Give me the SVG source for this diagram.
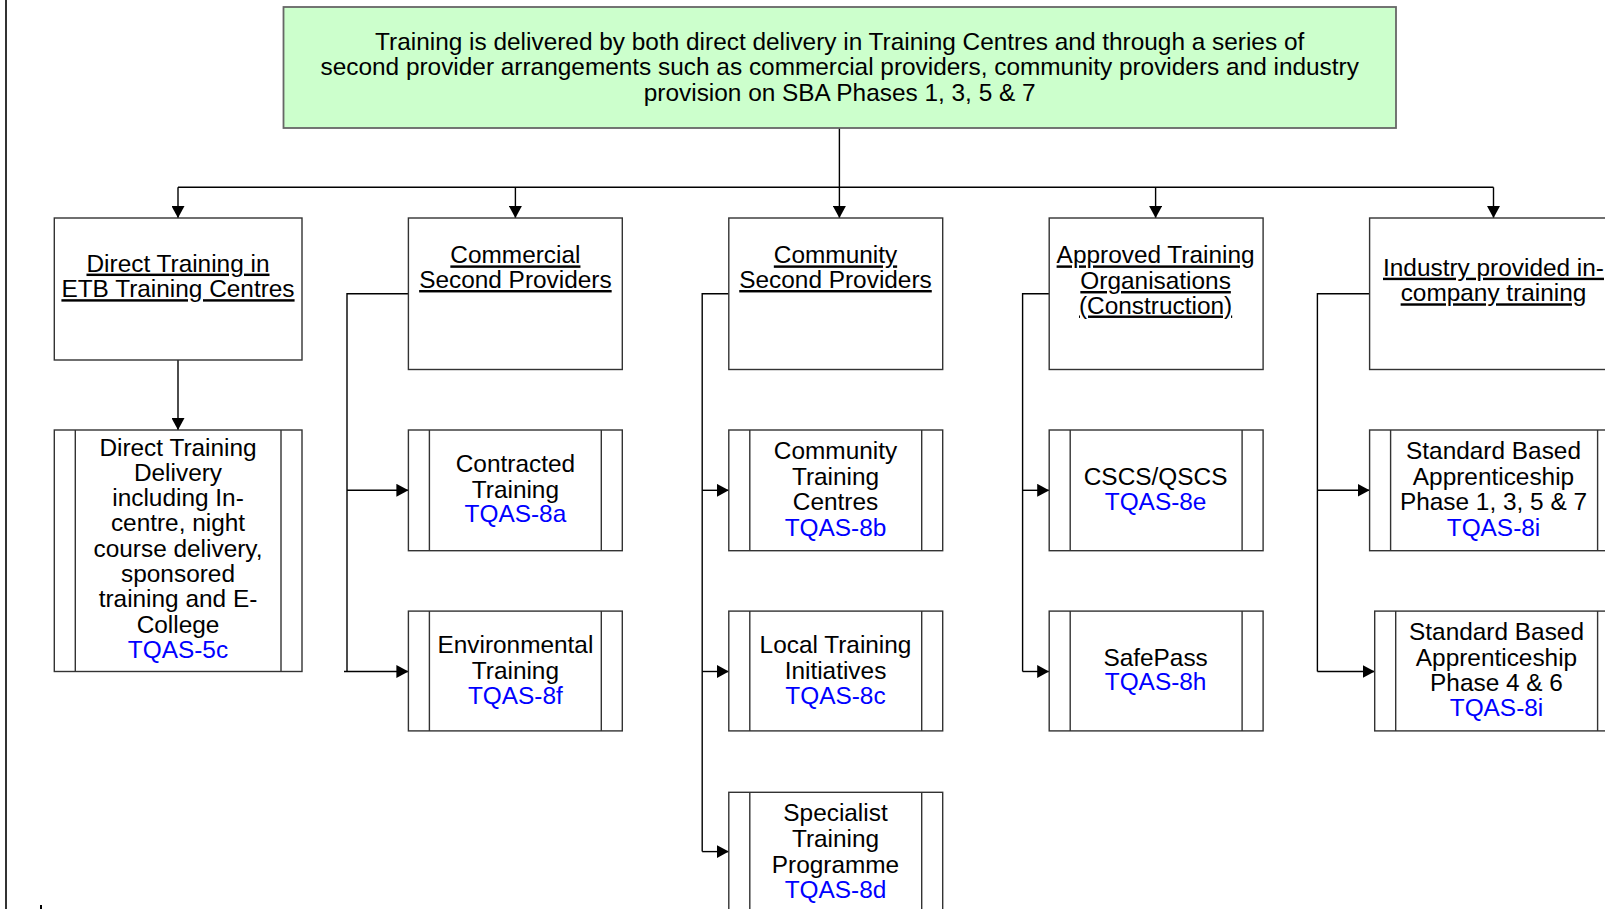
<svg xmlns="http://www.w3.org/2000/svg" width="1605" height="909" viewBox="0 0 1605 909">
<style>
text{font-family:"Liberation Sans",Arial,sans-serif;font-size:24.4px;fill:#000;text-anchor:middle}
.u{text-decoration:underline}
.b{fill:#0000ff}
.box{fill:#fff;stroke:#333;stroke-width:1.4}
.top{fill:#ccffcc;stroke:#666;stroke-width:1.8}
.bar{stroke:#333;stroke-width:1.4;fill:none}
.c{fill:none;stroke:#000;stroke-width:1.4}
</style>
<defs>
<marker id="ah" markerUnits="userSpaceOnUse" markerWidth="12" markerHeight="13" refX="12" refY="6.5" orient="auto">
<path d="M0,0 L12,6.5 L0,13 z" fill="#000"/>
</marker>
</defs>
<rect width="1605" height="909" fill="#fff"/>
<line x1="6" y1="0" x2="6" y2="909" stroke="#333" stroke-width="2"/>
<line x1="41" y1="905" x2="41" y2="909" stroke="#000" stroke-width="2"/>

<g id="connectors">
<path class="c" d="M839.4,128 V187.3 M178,187.3 H1493.5"/>
<path class="c" marker-end="url(#ah)" d="M178,187.3 V218"/>
<path class="c" marker-end="url(#ah)" d="M515.4,187.3 V218"/>
<path class="c" marker-end="url(#ah)" d="M839.4,187.3 V218"/>
<path class="c" marker-end="url(#ah)" d="M1155.6,187.3 V218"/>
<path class="c" marker-end="url(#ah)" d="M1493.5,187.3 V218"/>
<path class="c" marker-end="url(#ah)" d="M178,360 V430"/>
<path class="c" d="M408.4,293.8 H347 V671.5"/>
<path class="c" marker-end="url(#ah)" d="M347,490.3 H408.4"/>
<path class="c" marker-end="url(#ah)" d="M344,671.5 H408.4"/>
<path class="c" d="M728.8,293.8 H702.2 V851.6"/>
<path class="c" marker-end="url(#ah)" d="M702.2,490.3 H728.8"/>
<path class="c" marker-end="url(#ah)" d="M702.2,671.5 H728.8"/>
<path class="c" marker-end="url(#ah)" d="M702.2,851.6 H728.8"/>
<path class="c" d="M1049.2,293.8 H1022.6 V671.5"/>
<path class="c" marker-end="url(#ah)" d="M1022.6,490.3 H1049.2"/>
<path class="c" marker-end="url(#ah)" d="M1022.6,671.5 H1049.2"/>
<path class="c" d="M1369.6,293.8 H1317.4 V671.5"/>
<path class="c" marker-end="url(#ah)" d="M1317.4,490.3 H1369.6"/>
<path class="c" marker-end="url(#ah)" d="M1317.4,671.5 H1374.7"/>
</g>

<g id="top">
<rect class="top" x="283.5" y="7" width="1112.5" height="121"/>
<text x="839.7" y="49.5">Training is delivered by both direct delivery in Training Centres and through a series of</text>
<text x="839.7" y="75">second provider arrangements such as commercial providers, community providers and industry</text>
<text x="839.7" y="100.5">provision on SBA Phases 1, 3, 5 &amp; 7</text>
</g>

<g id="direct">
<rect class="box" x="54.3" y="218" width="247.7" height="142"/>
<text class="u" x="178" y="271.6">Direct Training in</text>
<text class="u" x="178" y="297.2">ETB Training Centres</text>
</g>
<g id="commercial">
<rect class="box" x="408.4" y="218" width="213.9" height="151.5"/>
<text class="u" x="515.4" y="263.4">Commercial</text>
<text class="u" x="515.4" y="288">Second Providers</text>
</g>
<g id="community">
<rect class="box" x="728.8" y="218" width="213.9" height="151.5"/>
<text class="u" x="835.5" y="263.4">Community</text>
<text class="u" x="835.5" y="288">Second Providers</text>
</g>
<g id="ato">
<rect class="box" x="1049.2" y="218" width="213.9" height="151.5"/>
<text class="u" x="1155.6" y="263.4">Approved Training</text>
<text class="u" x="1155.6" y="289">Organisations</text>
<text class="u" x="1155.6" y="313.5">(Construction)</text>
</g>
<g id="industry">
<rect class="box" x="1369.6" y="218" width="248" height="151.5"/>
<text class="u" x="1493.5" y="275.7">Industry provided in-</text>
<text class="u" x="1493.5" y="301.3">company training</text>
</g>

<g id="direct-delivery">
<rect class="box" x="54.3" y="430" width="247.7" height="241.5"/>
<path class="bar" d="M75.3,430 V671.5 M281,430 V671.5"/>
<text x="178" y="455.5">Direct Training</text>
<text x="178" y="480.8">Delivery</text>
<text x="178" y="506.1">including In-</text>
<text x="178" y="531.4">centre, night</text>
<text x="178" y="556.7">course delivery,</text>
<text x="178" y="582">sponsored</text>
<text x="178" y="607.3">training and E-</text>
<text x="178" y="632.6">College</text>
<text class="b" x="178" y="657.8">TQAS-5c</text>
</g>

<g id="contracted">
<rect class="box" x="408.4" y="430" width="213.9" height="120.7"/>
<path class="bar" d="M429.4,430 V550.7 M601.3,430 V550.7"/>
<text x="515.4" y="472.2">Contracted</text>
<text x="515.4" y="497.8">Training</text>
<text class="b" x="515.4" y="522.3">TQAS-8a</text>
</g>
<g id="environmental">
<rect class="box" x="408.4" y="611.1" width="213.9" height="119.8"/>
<path class="bar" d="M429.4,611.1 V730.9 M601.3,611.1 V730.9"/>
<text x="515.4" y="653.4">Environmental</text>
<text x="515.4" y="679">Training</text>
<text class="b" x="515.4" y="703.5">TQAS-8f</text>
</g>

<g id="community-centres">
<rect class="box" x="728.8" y="430" width="213.9" height="120.7"/>
<path class="bar" d="M749.8,430 V550.7 M921.7,430 V550.7"/>
<text x="835.5" y="458.9">Community</text>
<text x="835.5" y="484.5">Training</text>
<text x="835.5" y="510.1">Centres</text>
<text class="b" x="835.5" y="535.7">TQAS-8b</text>
</g>
<g id="local">
<rect class="box" x="728.8" y="611.1" width="213.9" height="119.8"/>
<path class="bar" d="M749.8,611.1 V730.9 M921.7,611.1 V730.9"/>
<text x="835.5" y="653.4">Local Training</text>
<text x="835.5" y="679">Initiatives</text>
<text class="b" x="835.5" y="703.5">TQAS-8c</text>
</g>
<g id="specialist">
<rect class="box" x="728.8" y="792.3" width="213.9" height="130"/>
<path class="bar" d="M749.8,792.3 V909 M921.7,792.3 V909"/>
<text x="835.5" y="821">Specialist</text>
<text x="835.5" y="847">Training</text>
<text x="835.5" y="873">Programme</text>
<text class="b" x="835.5" y="898">TQAS-8d</text>
</g>

<g id="cscs">
<rect class="box" x="1049.2" y="430" width="213.9" height="120.7"/>
<path class="bar" d="M1070.2,430 V550.7 M1242.1,430 V550.7"/>
<text x="1155.6" y="484.5">CSCS/QSCS</text>
<text class="b" x="1155.6" y="510">TQAS-8e</text>
</g>
<g id="safepass">
<rect class="box" x="1049.2" y="611.1" width="213.9" height="119.8"/>
<path class="bar" d="M1070.2,611.1 V730.9 M1242.1,611.1 V730.9"/>
<text x="1155.6" y="665.7">SafePass</text>
<text class="b" x="1155.6" y="690.2">TQAS-8h</text>
</g>

<g id="sba1">
<rect class="box" x="1369.6" y="430" width="248" height="120.7"/>
<path class="bar" d="M1390.6,430 V550.7 M1597.6,430 V550.7"/>
<text x="1493.5" y="458.9">Standard Based</text>
<text x="1493.5" y="484.5">Apprenticeship</text>
<text x="1493.5" y="510.1">Phase 1, 3, 5 &amp; 7</text>
<text class="b" x="1493.5" y="535.7">TQAS-8i</text>
</g>
<g id="sba2">
<rect class="box" x="1374.7" y="611.1" width="243" height="119.8"/>
<path class="bar" d="M1395.7,611.1 V730.9 M1597.6,611.1 V730.9"/>
<text x="1496.5" y="640">Standard Based</text>
<text x="1496.5" y="665.7">Apprenticeship</text>
<text x="1496.5" y="691.2">Phase 4 &amp; 6</text>
<text class="b" x="1496.5" y="715.8">TQAS-8i</text>
</g>
</svg>
